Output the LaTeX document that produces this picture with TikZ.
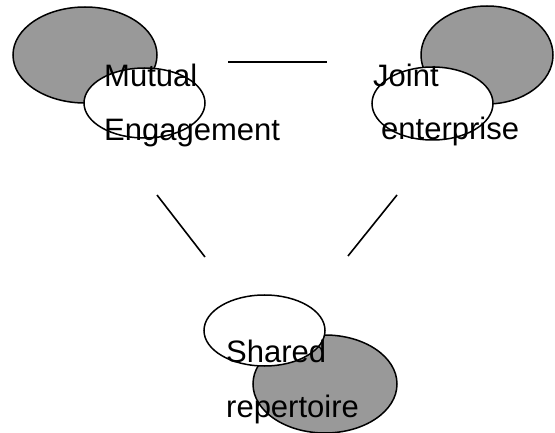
\documentclass[tikz,border=0pt]{standalone}
\usepackage{fontspec}
\setmainfont{Liberation Sans}
\usetikzlibrary{shapes.geometric}
\definecolor{shade}{RGB}{153,153,153}
\tikzset{
  blob/.style={ellipse, draw=black, line width=1.5pt, inner sep=0pt, outer sep=0pt},
  darkblob/.style={blob, fill=shade},
  lightblob/.style={blob, fill=white},
  label/.style={anchor=base west, inner sep=0pt, font=\fontsize{31}{38}\selectfont},
  link/.style={line width=1.6pt}
}
\begin{document}
\begin{tikzpicture}[x=1pt, y=-1pt]
  \useasboundingbox (0,0) rectangle (555,433);

  % Mutual engagement
  \node[darkblob, minimum width=144pt, minimum height=96pt] (meD) at (85,55) {};
  \node[lightblob, minimum width=121pt, minimum height=70pt] (meL) at (144.5,103) {};
  \node[label] (me1) at (104,87) {Mutual};
  \node[label] (me2) at (104,141) {Engagement};

  % Joint enterprise
  \node[darkblob, minimum width=132pt, minimum height=98pt] (jeD) at (487,55) {};
  \node[lightblob, minimum width=121pt, minimum height=73pt] (jeL) at (432.5,103.5) {};
  \node[label] (je1) at (373,87) {Joint};
  \node[label] (je2) at (381,140) {enterprise};

  % Shared repertoire
  \node[darkblob, minimum width=144pt, minimum height=98pt] (srD) at (325,384) {};
  \node[lightblob, minimum width=121pt, minimum height=71pt] (srL) at (264.5,330.5) {};
  \node[label] (sr1) at (226,362) {Shared};
  \node[label] (sr2) at (226,417) {repertoire};

  % connecting strokes
  \coordinate (t1) at (228,62);
  \coordinate (t2) at (327,62);
  \coordinate (l1) at (157,195);
  \coordinate (l2) at (205,257);
  \coordinate (r1) at (397,195);
  \coordinate (r2) at (348,256);
  \draw[link] (t1) -- (t2);
  \draw[link] (l1) -- (l2);
  \draw[link] (r1) -- (r2);
\end{tikzpicture}
\end{document}
